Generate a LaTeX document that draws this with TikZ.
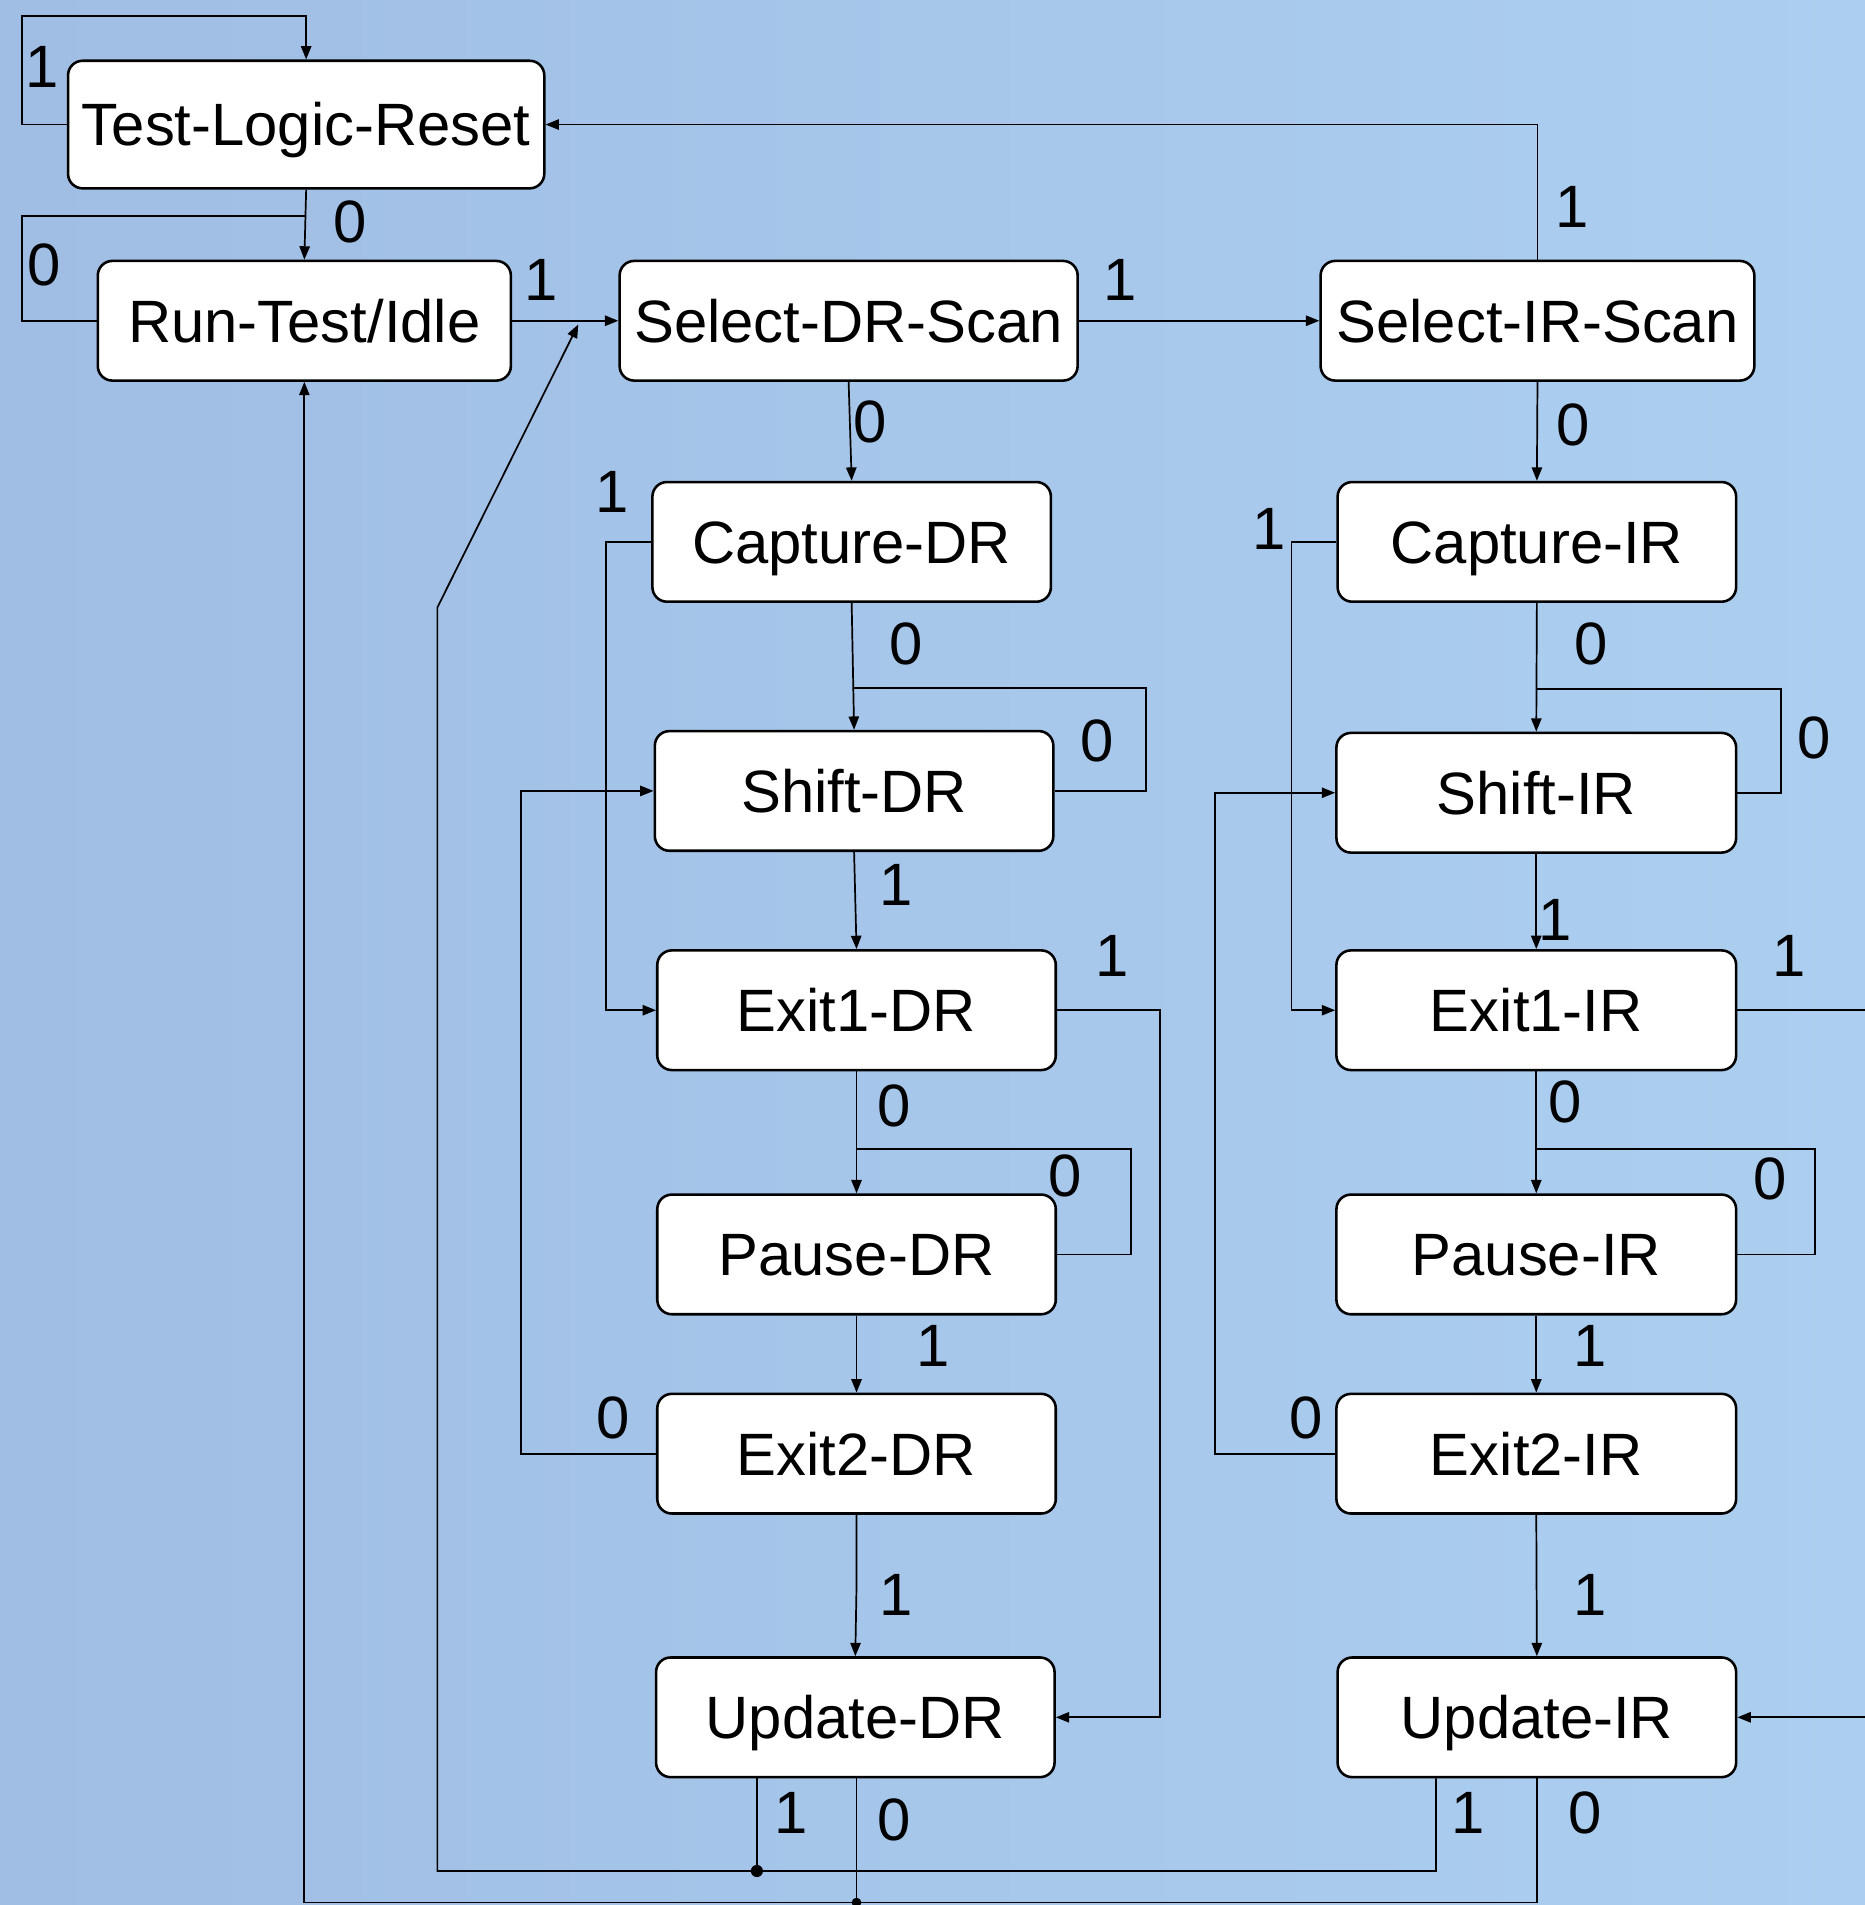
\documentclass[tikz,border=0pt]{standalone}
\usepackage{fontspec}
\setmainfont{Liberation Sans}
\usetikzlibrary{arrows.meta}
\definecolor{bgL}{RGB}{160,189,228}
\definecolor{bgR}{RGB}{172,207,240}
\begin{document}
\begin{tikzpicture}[x=0.1mm,y=-0.1mm,
  state/.style={draw, fill=white, rounded corners=1.2mm, line width=0.6pt,
    minimum height=9.85mm, inner sep=0pt, text height=10pt, text depth=0pt,
    font=\fontsize{14}{16}\selectfont},
  lbl/.style={inner sep=0pt, font=\fontsize{14}{16}\selectfont},
  conn/.style={line width=0.4pt},
  arr/.style={conn, -{Triangle[length=1.1mm,width=0.85mm]}}]
\useasboundingbox (0,0) rectangle (1535,1568);
\clip (0,0) rectangle (1535,1568);
\shade[left color=bgL, right color=bgR] (0,0) rectangle (1535,1568);

% states
\node[state, minimum width=39.2mm, minimum height=10.5mm] (TLR) at (252,102.5) {Test-Logic-Reset};
\node[state, minimum width=34mm] (RTI) at (250.5,264) {Run-Test/Idle};
\node[state, minimum width=37.7mm] (SDR) at (698.5,264) {Select-DR-Scan};
\node[state, minimum width=35.7mm] (SIR) at (1265.5,264) {Select-IR-Scan};
\node[state, minimum width=32.8mm] (CDR) at (701,446) {Capture-DR};
\node[state, minimum width=32.8mm] (CIR) at (1265,446) {Capture-IR};
\node[state, minimum width=32.8mm] (ShDR) at (703,651) {Shift-DR};
\node[state, minimum width=32.9mm] (ShIR) at (1264.5,652.5) {Shift-IR};
\node[state, minimum width=32.8mm] (E1DR) at (705,831.5) {Exit1-DR};
\node[state, minimum width=32.9mm] (E1IR) at (1264.5,831.5) {Exit1-IR};
\node[state, minimum width=32.8mm] (PDR) at (705,1032.5) {Pause-DR};
\node[state, minimum width=32.9mm] (PIR) at (1264.5,1032.5) {Pause-IR};
\node[state, minimum width=32.8mm] (E2DR) at (705,1196.5) {Exit2-DR};
\node[state, minimum width=32.9mm] (E2IR) at (1264.5,1196.5) {Exit2-IR};
\node[state, minimum width=32.8mm] (UDR) at (704,1413.5) {Update-DR};
\node[state, minimum width=32.8mm] (UIR) at (1265,1413.5) {Update-IR};

% free-end coordinates
\coordinate (retTip) at (476,267);
\coordinate (dotA) at (623,1540);
\coordinate (dotB) at (705,1566);
\coordinate (retC) at (1182,1540);

% connectors
\draw[arr] (TLR.west) -- (18,102.5) |- (252,13) -- (TLR.north);
\draw[arr] (TLR.south) -- (RTI.north);
\draw[conn] (RTI.west) -| (18,178) -- (250.8,178);
\draw[arr] (RTI.east) -- (SDR.west);
\draw[arr] (SDR.east) -- (SIR.west);
\draw[arr] (SIR.north) |- (TLR.east);
\draw[arr] (SDR.south) -- (CDR.north);
\draw[arr] (SIR.south) -- (CIR.north);
\draw[arr] (CDR.west) -- (499,446) |- (E1DR.west);
\draw[arr] (CIR.west) -- (1063,446) |- (E1IR.west);
\draw[arr] (CDR.south) -- (ShDR.north);
\draw[arr] (CIR.south) -- (ShIR.north);
\draw[conn] (ShDR.east) -- (943,651) |- (702.3,566);
\draw[conn] (ShIR.east) -- (1466,652.5) |- (1264.7,567);
\draw[arr] (ShDR.south) -- (E1DR.north);
\draw[arr] (ShIR.south) -- (E1IR.north);
\draw[arr] (E1DR.east) -- (955,831.5) |- (UDR.east);
\draw[arr] (E1IR.east) -- (1560,831.5) |- (UIR.east);
\draw[arr] (E1DR.south) -- (PDR.north);
\draw[arr] (E1IR.south) -- (PIR.north);
\draw[conn] (PDR.east) -- (931,1032.5) |- (705,946);
\draw[conn] (PIR.east) -- (1494,1032.5) |- (1264.5,946);
\draw[arr] (PDR.south) -- (E2DR.north);
\draw[arr] (PIR.south) -- (E2IR.north);
\draw[arr] (E2DR.west) -- (429,1196.5) |- (ShDR.west);
\draw[arr] (E2IR.west) -- (1000,1196.5) |- (ShIR.west);
\draw[arr] (E2DR.south) -- (705,1305) -- (UDR.north);
\draw[arr] (E2IR.south) -- (UIR.north);
% update returns
\draw[arr] (retC |- UIR.south) -- (retC) -- (360,1540) -- (360,500) -- (retTip);
\draw[conn] (dotA |- UDR.south) -- (dotA);
\fill (dotA) circle (0.5mm);
\draw[arr] (UIR.south) -- (1265,1566) -- (250.5,1566) -- (RTI.south);
\draw[conn] (dotB |- UDR.south) -- (dotB);
\fill (dotB) circle (0.4mm);

% labels
\node[lbl] at (35,55) {1};
\node[lbl] at (288,183) {0};
\node[lbl] at (36,218) {0};
\node[lbl] at (445,230) {1};
\node[lbl] at (922,230) {1};
\node[lbl] at (1294,170) {1};
\node[lbl] at (716,347) {0};
\node[lbl] at (1295,350) {0};
\node[lbl] at (504,405) {1};
\node[lbl] at (1045,435) {1};
\node[lbl] at (746,530) {0};
\node[lbl] at (903,610) {0};
\node[lbl] at (1310,530) {0};
\node[lbl] at (1493,607) {0};
\node[lbl] at (738,728) {1};
\node[lbl] at (1280,757) {1};
\node[lbl] at (915,787) {1};
\node[lbl] at (1473,787) {1};
\node[lbl] at (736,910) {0};
\node[lbl] at (877,968) {0};
\node[lbl] at (1288,907) {0};
\node[lbl] at (1457,970) {0};
\node[lbl] at (768,1108) {1};
\node[lbl] at (1309,1108) {1};
\node[lbl] at (505,1167) {0};
\node[lbl] at (1075,1167) {0};
\node[lbl] at (738,1313) {1};
\node[lbl] at (1309,1313) {1};
\node[lbl] at (651,1492) {1};
\node[lbl] at (736,1498) {0};
\node[lbl] at (1208,1492) {1};
\node[lbl] at (1305,1492) {0};
\end{tikzpicture}
\end{document}
